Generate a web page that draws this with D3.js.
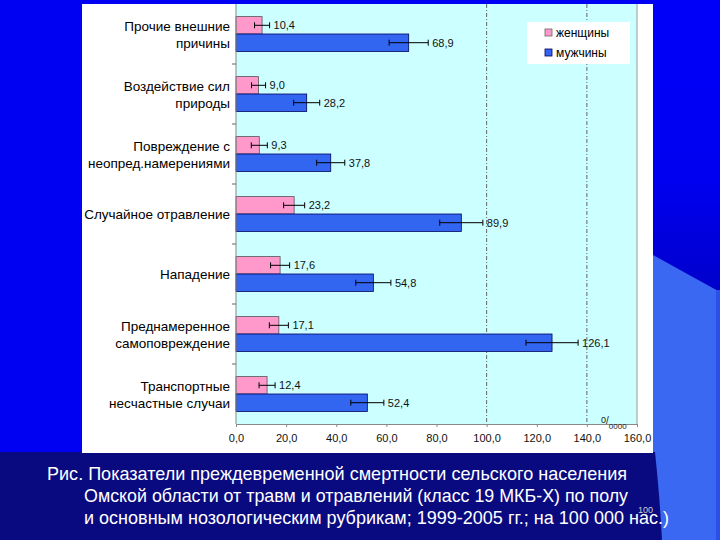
<!DOCTYPE html>
<html><head><meta charset="utf-8">
<script src="https://cdn.jsdelivr.net/npm/d3@7/dist/d3.min.js"></script>
<style>html,body{margin:0;padding:0;background:#0000f0;}svg{display:block;}</style>
</head><body>
<script>
const categories = [
  ["Прочие внешние", "причины"],
  ["Воздействие сил", "природы"],
  ["Повреждение с", "неопред.намерениями"],
  ["Случайное отравление"],
  ["Нападение"],
  ["Преднамеренное", "самоповреждение"],
  ["Транспортные", "несчастные случаи"]
];
const seriesNames = ["женщины", "мужчины"];
const women = [10.4, 9.0, 9.3, 23.2, 17.6, 17.1, 12.4];
const men = [68.9, 28.2, 37.8, 89.9, 54.8, 126.1, 52.4];
const womenErr = [3.0, 2.8, 3.2, 4.2, 3.8, 3.8, 3.2];
const menErr = [7.8, 5.2, 5.6, 8.6, 7.0, 10.4, 6.6];
const xTicks = [0, 20, 40, 60, 80, 100, 120, 140, 160];
const refLines = [100, 140];
const caption = [
  "Рис. Показатели преждевременной смертности сельского населения",
  "Омской области от травм и отравлений (класс 19 МКБ-Х) по полу",
  "и основным нозологическим рубрикам; 1999-2005 гг.; на 100 000 нас.)"
];

const W = 720, H = 540;
const svg = d3.select("body").append("svg").attr("width", W).attr("height", H);
const font = "Arial, 'Liberation Sans', sans-serif";

// slide background
svg.append("rect").attr("width", W).attr("height", H).attr("fill", "#0000f2");
const grad = svg.append("defs").append("linearGradient").attr("id", "rg").attr("x1", 0).attr("y1", 0).attr("x2", 0).attr("y2", 1);
grad.append("stop").attr("offset", "0").attr("stop-color", "#0000fa");
grad.append("stop").attr("offset", "0.6").attr("stop-color", "#0000f0");
grad.append("stop").attr("offset", "1").attr("stop-color", "#0000c8");
svg.append("rect").attr("x", 653).attr("y", 0).attr("width", 67).attr("height", 300).attr("fill", "url(#rg)");
svg.append("path").attr("d", "M653,255 L720,292 L720,540 L653,540 Z").attr("fill", "#3a68f2");
svg.append("rect").attr("x", 716).attr("y", 290).attr("width", 4).attr("height", 250).attr("fill", "#2a50e8");
svg.append("path").attr("d", "M0,452 L655,452 Q660,500 662,540 L0,540 Z").attr("fill", "#0a0a80");

// white panel
svg.append("rect").attr("x", 82).attr("y", 4).attr("width", 571).attr("height", 449).attr("fill", "#ffffff");

const x = d3.scaleLinear().domain([0, 160]).range([236, 637]);
const plotTop = 4, plotBottom = 424;
const y0 = d3.scaleBand().domain(d3.range(categories.length)).range([plotTop, plotBottom]).paddingInner(0.42).paddingOuter(0.21);
const y1 = d3.scaleBand().domain([0, 1]).range([0, y0.bandwidth()]);
const yStep = d3.scaleBand().domain(d3.range(categories.length)).range([plotTop, plotBottom]);

// plot area
svg.append("rect").attr("x", x(0)).attr("y", plotTop).attr("width", x(160) - x(0)).attr("height", plotBottom - plotTop).attr("fill", "#ccffff");
svg.selectAll(".ref").data(refLines).join("line")
  .attr("x1", d => x(d)).attr("x2", d => x(d)).attr("y1", plotTop).attr("y2", plotBottom)
  .attr("stroke", "#666").attr("stroke-width", 1).attr("stroke-dasharray", "4,2,1,2");
svg.append("line").attr("x1", x(160)).attr("x2", x(160)).attr("y1", plotTop).attr("y2", plotBottom).attr("stroke", "#999");

// bars
const colors = ["#ff99cc", "#3366f0"];
const data = [];
categories.forEach((c, i) => {
  data.push({i, s: 0, v: women[i], e: womenErr[i]});
  data.push({i, s: 1, v: men[i], e: menErr[i]});
});
const g = svg.append("g");
g.selectAll("rect.bar").data(data).join("rect").attr("class", "bar")
  .attr("x", x(0)).attr("y", d => y0(d.i) + y1(d.s))
  .attr("width", d => x(d.v) - x(0)).attr("height", y1.bandwidth())
  .attr("fill", d => colors[d.s]).attr("stroke", d => d.s ? "#000060" : "#555").attr("stroke-width", 0.8);

// error bars
const eb = g.selectAll("g.eb").data(data).join("g").attr("class", "eb")
  .attr("transform", d => `translate(0,${y0(d.i) + y1(d.s) + y1.bandwidth() / 2})`);
eb.append("line").attr("x1", d => x(d.v - d.e)).attr("x2", d => x(d.v + d.e)).attr("stroke", "#000").attr("stroke-width", 1);
eb.append("line").attr("x1", d => x(d.v - d.e)).attr("x2", d => x(d.v - d.e)).attr("y1", -3).attr("y2", 3).attr("stroke", "#000");
eb.append("line").attr("x1", d => x(d.v + d.e)).attr("x2", d => x(d.v + d.e)).attr("y1", -3).attr("y2", 3).attr("stroke", "#000");
eb.append("text").attr("x", d => x(d.v + d.e) + 4).attr("y", 4)
  .attr("font-family", font).attr("font-size", 11).attr("fill", "#111")
  .text(d => d.v.toFixed(1).replace(".", ","));

// y axis
svg.append("line").attr("x1", x(0)).attr("x2", x(0)).attr("y1", plotTop).attr("y2", plotBottom).attr("stroke", "#888");
svg.selectAll(".ytick").data(d3.range(1, categories.length)).join("line")
  .attr("x1", x(0) - 4).attr("x2", x(0)).attr("y1", d => yStep(d)).attr("y2", d => yStep(d)).attr("stroke", "#666");
const cl = svg.selectAll(".cat").data(categories).join("text")
  .attr("font-family", font).attr("font-size", 13.5).attr("fill", "#000").attr("text-anchor", "end");
cl.each(function(d, i) {
  const c = yStep(i) + yStep.bandwidth() / 2;
  const t = d3.select(this);
  d.forEach((line, k) => {
    const yy = d.length === 1 ? c + 5 : c - 3.5 + k * 17.5;
    t.append("tspan").attr("x", 230).attr("y", yy).text(line);
  });
});

// x axis
const xAxis = svg.append("g").attr("transform", `translate(0,${plotBottom})`)
  .call(d3.axisBottom(x).tickValues(xTicks).tickSize(3).tickFormat(d => d3.format(".1f")(d).replace(".", ",")));
xAxis.select(".domain").attr("stroke", "#888");
xAxis.selectAll(".tick line").attr("stroke", "#888");
xAxis.selectAll("text").attr("font-family", font).attr("font-size", 11).attr("fill", "#111").attr("dy", "1.1em");

// unit label
const u = svg.append("text").attr("x", 601).attr("y", 426).attr("font-family", font).attr("fill", "#222");
u.append("tspan").attr("font-size", 9).attr("dy", -3).text("0");
u.append("tspan").attr("font-size", 10).attr("dy", 1).text("/");
u.append("tspan").attr("font-size", 8).attr("dy", 5).text("0000");

// legend
const lg = svg.append("g");
lg.append("rect").attr("x", 527).attr("y", 22).attr("width", 103).attr("height", 42).attr("fill", "#fff");
seriesNames.forEach((n, k) => {
  lg.append("rect").attr("x", 545).attr("y", 29 + k * 20).attr("width", 7).attr("height", 7)
    .attr("fill", colors[k]).attr("stroke", k ? "#000060" : "#666").attr("stroke-width", 0.8);
  lg.append("text").attr("x", 556).attr("y", 37 + k * 20).attr("font-family", font).attr("font-size", 12).attr("fill", "#000").text(n);
});

// caption
const capX = [47, 84, 84];
const capW = [580, 544, 585];
caption.forEach((line, k) => {
  svg.append("text").attr("x", capX[k]).attr("y", 480 + k * 22)
    .attr("font-family", font).attr("font-size", 19).attr("fill", "#ffffff")
    .attr("textLength", capW[k]).attr("lengthAdjust", "spacingAndGlyphs").text(line);
});
svg.append("text").attr("x", 638).attr("y", 513).attr("font-family", font).attr("font-size", 9).attr("fill", "#cccccc").text("100");
</script>
</body></html>
